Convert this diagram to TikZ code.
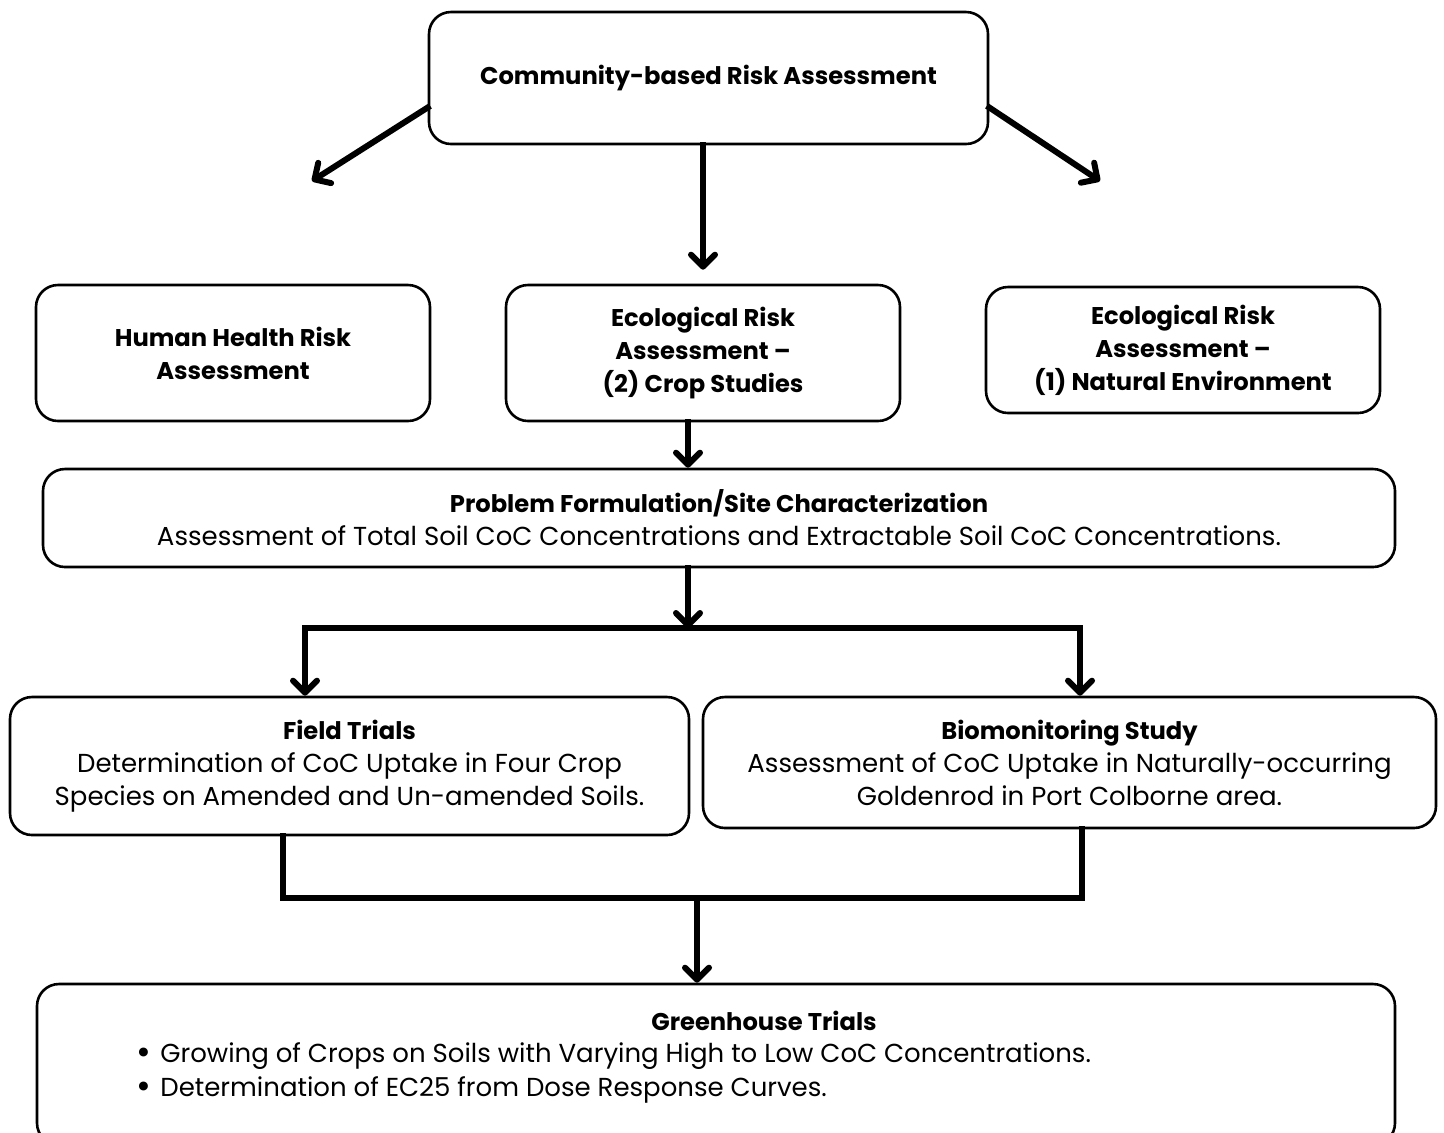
\documentclass[tikz,border=0pt]{standalone}
\usepackage{fontspec}
\setmainfont{Poppins}
\usetikzlibrary{arrows.meta}
\newcommand\hd[1]{{\fontsize{12.1}{16.5}\selectfont\bfseries #1}}
\newcommand\itembul{\makebox[12pt][l]{\raisebox{-1.2pt}{\fontsize{18}{16.5}\selectfont\textbullet}}}

\begin{document}
\begin{tikzpicture}[x=0.5pt,y=-0.5pt,
    font=\fontsize{13}{16.5}\selectfont,
    box/.style={draw,line width=1.3pt,rounded corners=11pt,align=center,inner sep=0pt},
    flow/.style={line width=3pt,line cap=rect,-{Straight Barb[length=6pt,width=12pt,round]}},
    bar/.style={line width=3pt,line cap=rect}]
\useasboundingbox (0,0) rectangle (1444,1132);

            % top level
            \node[box,minimum width=279.5pt,minimum height=66pt] (commRA) at (708.5,78) {\hd{Community-based Risk Assessment}};
            % three assessments
            \node[box,minimum width=197pt,minimum height=68pt] (hhRA) at (233,353) {\hd{Human Health Risk}\\\hd{Assessment}};
            \node[box,minimum width=197pt,minimum height=68pt] (eraCrop) at (703,353) {\hd{Ecological Risk}\\\hd{Assessment –}\\\hd{(2) Crop Studies}};
            \node[box,minimum width=197pt,minimum height=63pt] (eraNat) at (1183,350) {\hd{Ecological Risk}\\\hd{Assessment –}\\\hd{(1) Natural Environment}};
            \coordinate (hhTip) at (312,181);
            \coordinate (natTip) at (1100,181);
            \draw[flow] (commRA.186.5) -- (hhTip);
            \draw[flow] (commRA.-6.5) -- (natTip);
            \draw[flow] (commRA.south -| eraCrop) -- ([yshift=7pt]eraCrop.north);
            % problem formulation
            \node[box,minimum width=676pt,minimum height=49pt] (probForm) at (719,518) {\hd{Problem Formulation/Site Characterization}\\Assessment of Total Soil CoC Concentrations and Extractable Soil CoC Concentrations.};
            \coordinate (midX) at (688,0);
            \draw[flow] (eraCrop.south -| midX) -- (probForm.north -| midX);
            % split to the two studies
            \node[box,minimum width=339.5pt,minimum height=69pt] (fieldTr) at (349.5,766) {\hd{Field Trials}\\Determination of CoC Uptake in Four Crop\\Species on Amended and Un-amended Soils.};
            \node[box,minimum width=366.5pt,minimum height=65.5pt] (bioMon) at (1069.5,762.5) {\hd{Biomonitoring Study}\\Assessment of CoC Uptake in Naturally-occurring\\Goldenrod in Port Colborne area.};
            \coordinate (splitL) at (305,628);
            \coordinate (splitR) at (1080,628);
            \draw[flow] (probForm.south -| midX) -- (midX |- splitL);
            \draw[flow] (splitR) -- (splitL) -- (splitL |- fieldTr.north);
            \draw[flow] (splitR) -- (splitR |- bioMon.north);
            % join to greenhouse
            \node[box,minimum width=679pt,minimum height=80.5pt] (greenTr) at (716,1064.5) {};
            \coordinate (joinL) at (283,898);
            \coordinate (joinR) at (1082,898);
            \coordinate (joinM) at (697,898);
            \draw[bar] (fieldTr.south -| joinL) -- (joinL) -- (joinR) -- (bioMon.south -| joinR);
            \draw[flow] (joinM) -- (greenTr.north -| joinM);
            \node (greenTitle) at (764,1021) {\hd{Greenhouse Trials}};
            \node[anchor=west,inner sep=0pt] (greenItemA) at (136,1056) {\itembul Growing of Crops on Soils with Varying High to Low CoC Concentrations.};
            \node[anchor=west,inner sep=0pt] (greenItemB) at (136,1090) {\itembul Determination of EC25 from Dose Response Curves.};
        \end{tikzpicture}
\end{document}
